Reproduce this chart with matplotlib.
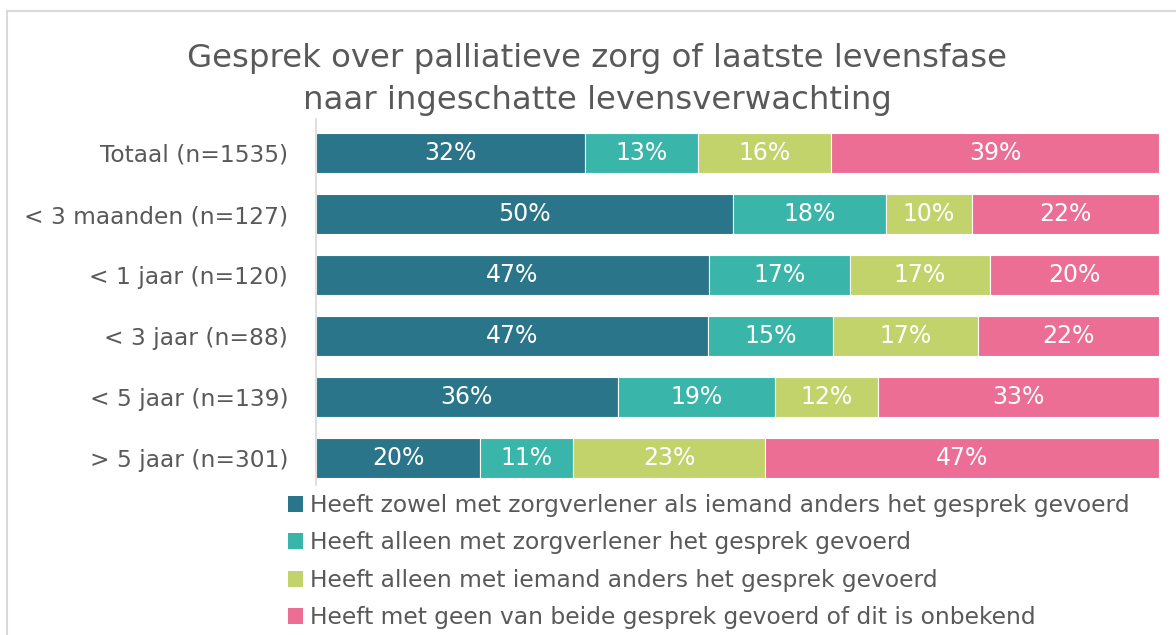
import matplotlib
matplotlib.use("Agg")
import matplotlib.pyplot as plt
from matplotlib.lines import Line2D
from matplotlib.patches import Patch

plt.rcParams['font.family'] = ['DejaVu Sans']

categories = ["Totaal (n=1535)", "< 3 maanden (n=127)", "< 1 jaar (n=120)",
              "< 3 jaar (n=88)", "< 5 jaar (n=139)", "> 5 jaar (n=301)"]
series_names = ["Heeft zowel met zorgverlener als iemand anders het gesprek gevoerd",
                "Heeft alleen met zorgverlener het gesprek gevoerd",
                "Heeft alleen met iemand anders het gesprek gevoerd",
                "Heeft met geen van beide gesprek gevoerd of dit is onbekend"]
zowel = [31.9, 49.5, 46.6, 46.5, 35.8, 19.5]
zorgverlener = [13.4, 18.1, 16.7, 14.8, 18.7, 11.0]
iemand = [15.8, 10.2, 16.7, 17.2, 12.2, 22.8]
geen = [38.9, 22.2, 20.0, 21.5, 33.3, 46.7]
colors = ["#2A7589", "#3AB5A9", "#C3D36C", "#EC6E94"]

W, H = 1176, 635
fig = plt.figure(figsize=(W / 100, H / 100), dpi=100)
ax = fig.add_axes([316 / W, 1 - 488.5 / H, (1159 - 316) / W, 366 / H])

series = [zowel, zorgverlener, iemand, geen]
ypos = list(range(len(categories)))
left = [0.0] * len(categories)
for vals, col, name in zip(series, colors, series_names):
    bars = ax.barh(ypos, vals, left=left, height=0.67, color=col,
                   edgecolor="white", linewidth=0.8, label=name)
    for b, v, l in zip(bars, vals, left):
        ax.text(l + v / 2, b.get_y() + b.get_height() / 2, f"{int(v + 0.5)}%",
                ha="center", va="center", color="white", fontsize=17)
    left = [a + b for a, b in zip(left, vals)]

ax.set_xlim(0, 100)
ax.set_ylim(5.5, -0.5)
ax.set_yticks(ypos)
ax.set_yticklabels(categories, fontsize=16.8, color="#595959")
ax.tick_params(axis="y", length=0, pad=20)
ax.set_xticks([])
for s in ["top", "right", "bottom"]:
    ax.spines[s].set_visible(False)
ax.spines["left"].set_color("#D9D9D9")
ax.spines["left"].set_linewidth(1.2)
ax.spines["left"].set_bounds(5.45, -0.55)

fig.text(597 / W, 1 - 58 / H,
         "Gesprek over palliatieve zorg of laatste levensfase",
         ha="center", va="center", fontsize=23.3, color="#595959")
fig.text(597 / W, 1 - 101 / H, "naar ingeschatte levensverwachting",
         ha="center", va="center", fontsize=23.3, color="#595959")

handles = [Patch(facecolor=c, edgecolor="none") for c in colors]
fig.legend(handles, series_names, loc="upper left",
           bbox_to_anchor=(288 / W, 1 - 494 / H), frameon=False,
           fontsize=16.8, labelcolor="#595959", handlelength=0.65,
           handleheight=0.65, handletextpad=0.3, labelspacing=0.62,
           borderpad=0, borderaxespad=0)

fig.add_artist(Line2D([7 / W, 7 / W], [0, 1 - 11 / H], transform=fig.transFigure,
                      color="#D9D9D9", linewidth=1.5))
fig.add_artist(Line2D([7 / W, 1], [1 - 11 / H, 1 - 11 / H], transform=fig.transFigure,
                      color="#D9D9D9", linewidth=1.5))

fig.savefig("out.png", dpi=100, facecolor="white")
